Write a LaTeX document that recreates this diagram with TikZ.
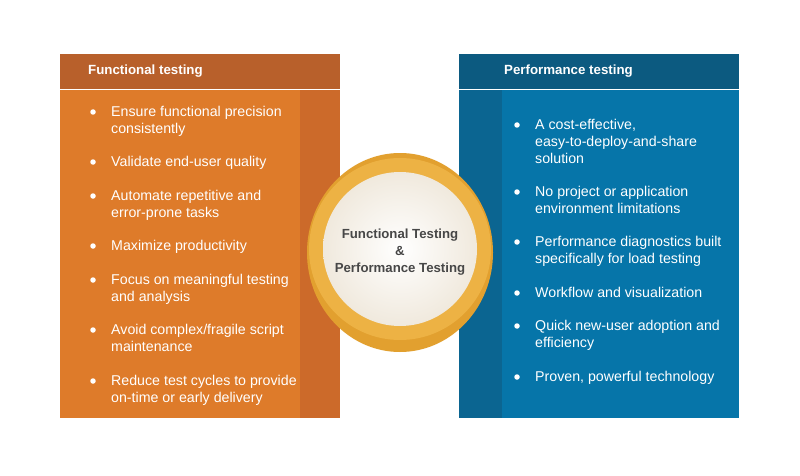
\documentclass[tikz,border=0pt]{standalone}
\usepackage{fontspec}
\setmainfont{Liberation Sans}
\usepackage{tikz}

\definecolor{fhead}{HTML}{B8602B}
\definecolor{fbody}{HTML}{DE7B2A}
\definecolor{fstrip}{HTML}{CC6A2A}
\definecolor{phead}{HTML}{0C5A80}
\definecolor{pbody}{HTML}{0675A9}
\definecolor{pstrip}{HTML}{0B6591}
\definecolor{ringdark}{HTML}{E2A02F}
\definecolor{ringlight}{HTML}{EDB244}
\definecolor{discedge}{HTML}{F0E9DD}
\definecolor{hubtext}{HTML}{474747}

\tikzset{
  hdtext/.style={anchor=west, text=white, inner sep=0pt,
    font=\bfseries\fontsize{13.3}{16}\selectfont},
  itemtext/.style={anchor=north west, align=left, text=white, inner sep=0pt,
    font=\fontsize{14.2}{17}\selectfont},
  dot/.style={circle, fill=white, inner sep=0pt, minimum size=5.5pt}
}

\begin{document}
\begin{tikzpicture}[x=1pt,y=-1pt]
    \useasboundingbox[fill=white] (0,0) rectangle (800,476);
    % functional testing
    \fill[fhead] (60,54) rectangle (340,89);
    \fill[fbody] (60,90) rectangle (340,418);
    \fill[fstrip] (300,90) rectangle (340,418);
    \node[hdtext] (fhd) at (88,71) {Functional testing};
    \foreach \y/\txt [count=\i] in {111/{Ensure functional precision\\consistently},
        161/{Validate end-user quality},
        195/{Automate repetitive and\\error-prone tasks},
        245/{Maximize productivity},
        279/{Focus on meaningful testing\\and analysis},
        329/{Avoid complex/fragile script\\maintenance},
        380/{Reduce test cycles to provide\\on-time or early delivery}} {
      \node[dot] (fdot\i) at (93,{\y+1}) {};
      \node[itemtext] (fitem\i) at (111,{\y-5}) {\txt};
    }
    % performance testing
    \fill[phead] (459,54) rectangle (739,89);
    \fill[pbody] (459,90) rectangle (739,418);
    \fill[pstrip] (459,90) rectangle (502,418);
    \node[hdtext] (phd) at (504,71) {Performance testing};
    \foreach \y/\txt [count=\i] in {124/{A cost-effective,\\easy-to-deploy-and-share\\solution},
        191/{No project or application\\environment limitations},
        241/{Performance diagnostics built\\specifically for load testing},
        292/{Workflow and visualization},
        325/{Quick new-user adoption and\\efficiency},
        376/{Proven, powerful technology}} {
      \node[dot] (pdot\i) at (517,{\y+1}) {};
      \node[itemtext] (pitem\i) at (535,{\y-5}) {\txt};
    }
    % hub
    \fill[ringdark] (400,252.5) ellipse (93 and 99.5);
    \fill[ringlight] (400,249) circle (91);
    \shade[inner color=white, outer color=discedge] (400,249) circle (77);
    \node[align=center, text=hubtext, font=\bfseries\fontsize{13.2}{17}\selectfont] (hub) at (400,252)
      {Functional Testing\\\&\\Performance Testing};
  \end{tikzpicture}
\end{document}
